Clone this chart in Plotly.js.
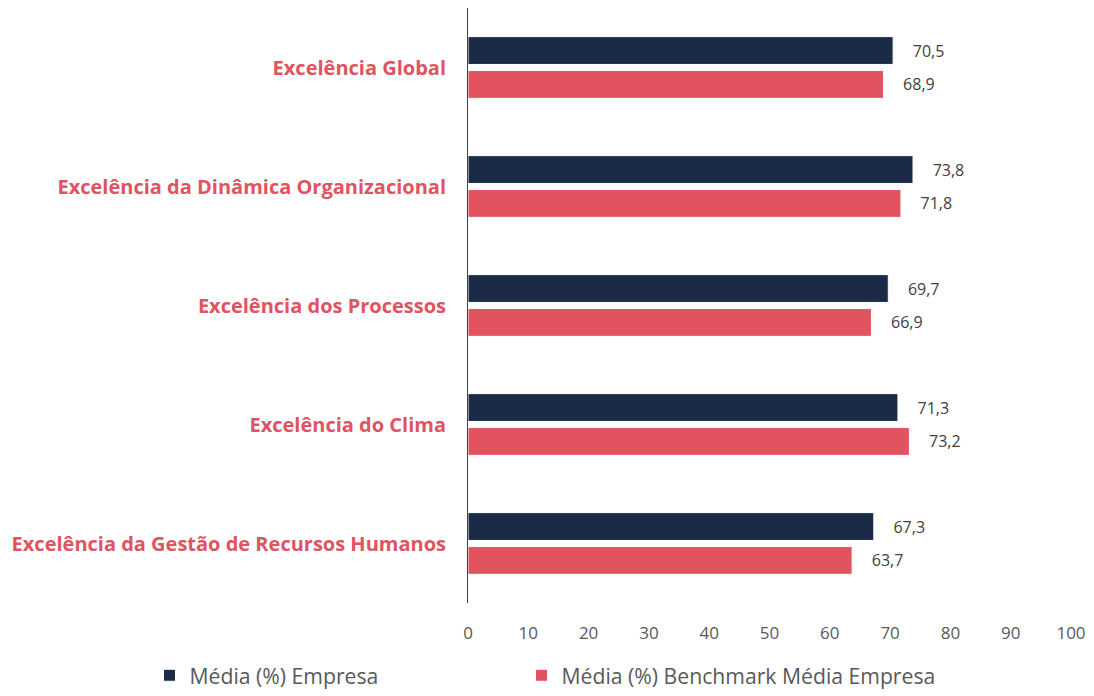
<!DOCTYPE html>
<html><head><meta charset="utf-8">
<script src="https://cdn.plot.ly/plotly-3.0.1.min.js"></script>
<style>html,body{margin:0;padding:0;background:#fff}#c{width:1094px;height:696px}</style>
</head><body><div id="c"></div>
<script>
const categories = ["Excelência Global","Excelência da Dinâmica Organizacional","Excelência dos Processos","Excelência do Clima","Excelência da Gestão de Recursos Humanos"];
const empresa = [70.5, 73.8, 69.7, 71.3, 67.3];
const benchmark = [68.9, 71.8, 66.9, 73.2, 63.7];
const seriesNames = ["Média (%) Empresa","Média (%) Benchmark Média Empresa"];
const xTicks = [0,10,20,30,40,50,60,70,80,90,100];

const font = "'Open Sans', 'Segoe UI', sans-serif";
const mk = (vals, name, color, leg) => ({
  type:'bar', orientation:'h', y:categories, x:vals, name:name, legend:leg,
  marker:{color:color, line:{color:'#ffffff', width:1}},
  texttemplate:'\u00a0\u00a0\u00a0\u00a0%{x:.1f}', textposition:'outside',
  textfont:{family:font, size:16, color:'#404040'}, cliponaxis:false
});
const data = [mk(empresa, seriesNames[0], '#1B2A47', 'legend'), mk(benchmark, seriesNames[1], '#E0535F', 'legend2')];
const legBase = {orientation:'h', xref:'container', yref:'container', xanchor:'left', y:-0.012, yanchor:'bottom',
  bgcolor:'rgba(0,0,0,0)', itemwidth:30, font:{family:font, size:21.2, color:'#595959'}};
const layout = {
  width:1094, height:696, separators:',.',
  margin:{l:468, r:23, t:8, b:93},
  barmode:'group', bargap:0.43, bargroupgap:0.18,
  paper_bgcolor:'#fff', plot_bgcolor:'#fff',
  font:{family:font},
  xaxis:{range:[0,100], tickvals:xTicks, showgrid:false, zeroline:false, showline:false,
    ticks:'', tickfont:{family:font, size:17, color:'#595959'}, ticklabelstandoff:18, fixedrange:true, automargin:false},
  yaxis:{autorange:'reversed', showgrid:false, zeroline:false, showline:true, linecolor:'#404040', linewidth:1,
    ticks:'', ticklabelstandoff:17, automargin:false, tickfont:{family:font, size:20, color:'#E0535F', weight:'bold'}},
  showlegend:true,
  legend:Object.assign({}, legBase, {x:149.5/1094}),
  legend2:Object.assign({}, legBase, {x:521.5/1094})
};
Plotly.newPlot('c', data, layout, {displayModeBar:false, staticPlot:true});
</script></body></html>
